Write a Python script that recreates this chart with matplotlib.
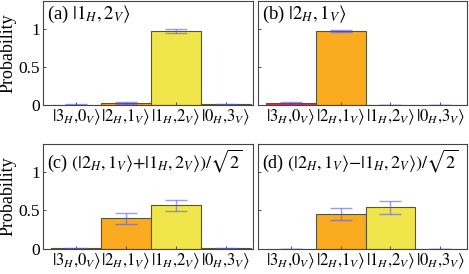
import matplotlib.pyplot as plt
import numpy as np

plt.rcParams['font.family'] = 'serif'
plt.rcParams['font.serif'] = ['Liberation Serif', 'DejaVu Serif']
plt.rcParams['mathtext.fontset'] = 'stix'

states = [r'$|3_H{,}0_V\rangle$', r'$|2_H{,}1_V\rangle$', r'$|1_H{,}2_V\rangle$', r'$|0_H{,}3_V\rangle$']
bar_colors = ['#dc3050', '#fbab20', '#f0e64c', '#2c5f88']

titles = [r'(a) $|1_H,2_V\rangle$',
          r'(b) $|2_H,1_V\rangle$',
          r'(c) $\left(|2_H,1_V\rangle{+}|1_H,2_V\rangle\right)/\sqrt{2}$',
          r'(d) $\left(|2_H,1_V\rangle{-}|1_H,2_V\rangle\right)/\sqrt{2}$']
title_sizes = [13.5, 13.5, 13, 13]

prob_a = [0.002, 0.025, 0.97, 0.008]
err_a = [0.004, 0.01, 0.022, 0.005]
prob_b = [0.02, 0.97, 0.001, 0.001]
err_b = [0.015, 0.01, 0.002, 0.002]
prob_c = [0.012, 0.40, 0.565, 0.01]
err_c = [0.008, 0.072, 0.072, 0.008]
prob_d = [0.0, 0.46, 0.54, 0.0]
err_d = [0.0, 0.077, 0.08, 0.0]

probs = [prob_a, prob_b, prob_c, prob_d]
errs = [err_a, err_b, err_c, err_d]

fig = plt.figure(figsize=(4.69, 2.74), dpi=100)
boxes = [[0.092, 0.617, 0.447, 0.379],
         [0.550, 0.617, 0.446, 0.379],
         [0.092, 0.091, 0.447, 0.383],
         [0.550, 0.091, 0.446, 0.383]]

x = np.arange(len(states))
for i in range(4):
    ax = fig.add_axes(boxes[i])
    ax.bar(x, probs[i], width=1.0, color=bar_colors, edgecolor='#55553a', linewidth=0.8)
    ax.errorbar(x, probs[i], yerr=errs[i], fmt='none', ecolor='#5a5ae6', alpha=0.6,
                elinewidth=1.0, capsize=8, capthick=1.0)
    ax.set_xlim(-0.66, 3.54)
    ax.set_ylim(0, 1.36)
    ax.set_yticks([0, 0.5, 1])
    ax.set_xticks(x)
    ax.set_xticklabels(states, fontsize=12)
    ax.tick_params(direction='in', length=2.5, width=0.6, pad=2, labelsize=12.5, color='#333333')
    ax.tick_params(axis='x', labelsize=12)
    if i % 2 == 0:
        ax.set_yticklabels(['0', '0.5', '1'])
        ax.set_ylabel('Probability', fontsize=13, labelpad=2)
    else:
        ax.set_yticklabels([])
    for s in ax.spines.values():
        s.set_color('#444444')
        s.set_linewidth(0.8)
    ax.text(0.02, 0.97, titles[i], transform=ax.transAxes, fontsize=title_sizes[i], va='top', ha='left')

fig.savefig('out.png', dpi=100)
